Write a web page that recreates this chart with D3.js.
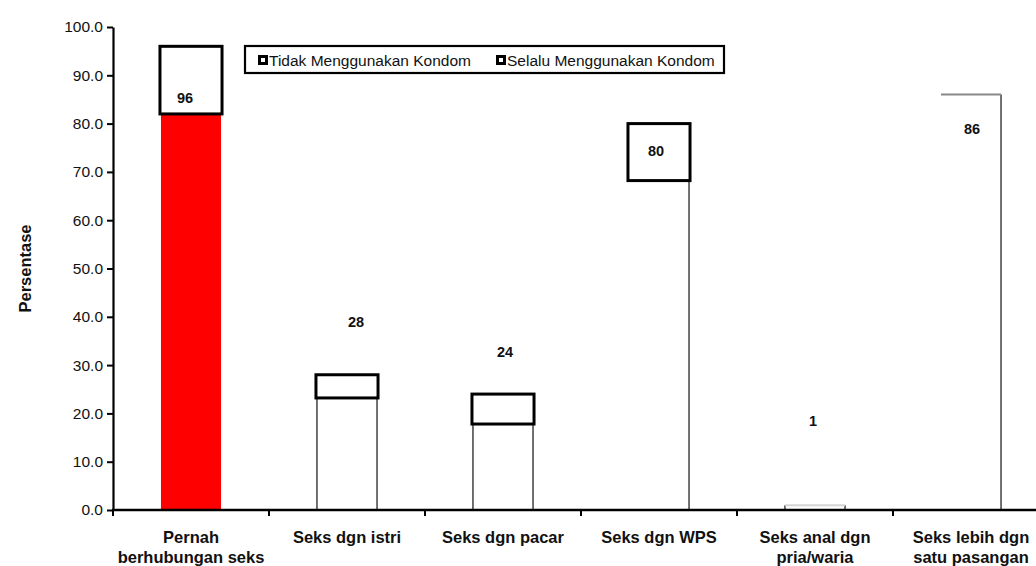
<!DOCTYPE html>
<html>
<head>
<meta charset="utf-8">
<script src="https://cdn.jsdelivr.net/npm/d3@7"></script>
<style>
  html, body { margin: 0; padding: 0; background: #fff; }
  svg { display: block; font-family: "Liberation Sans", Arial, sans-serif; }
</style>
</head>
<body>
<svg id="chart" width="1036" height="566"></svg>
<script>
// Categories (two-line labels split on "|")
const categories = [
  "Pernah|berhubungan seks",
  "Seks dgn istri",
  "Seks dgn pacar",
  "Seks dgn WPS",
  "Seks anal dgn|pria/waria",
  "Seks lebih dgn|satu pasangan"
];
// Series values (percent)
const tidakKondom  = [82.0, 23.2, 17.8, 68.2, 1.0, 86.0];
const selaluKondom = [14.0,  4.8,  6.2, 11.8, 0.0,  0.0];
const seriesNames  = ["Tidak Menggunakan Kondom", "Selalu Menggunakan Kondom"];
const yTicks = [0, 10, 20, 30, 40, 50, 60, 70, 80, 90, 100];

// Presentation settings (not data)
const lowerFill   = ["#ff0000", "#fff", "#fff", "#fff", "#fff", "#fff"];
const lowerSides  = ["", "lr", "lr", "r", "lrt", "tr"];
const labelLevel  = [85.3, 39.0, 32.8, 74.3, 18.5, 79.0];
const labelNudge  = [-6, 9, 2, -3, -2, 1];

const svg = d3.select("#chart");
const y = d3.scaleLinear().domain([0, 100]).range([510, 27]);
const x = d3.scaleBand().domain(categories).range([113, 1049])
  .paddingInner(0.615).paddingOuter(0.3075);
const gap = (x.step() - x.bandwidth()) / 2;

// Y axis
const yAxis = svg.append("g").attr("transform", "translate(113,0)")
  .call(d3.axisLeft(y).tickValues(yTicks).tickFormat(d3.format(".1f"))
    .tickSize(6).tickSizeOuter(0).tickPadding(4));
yAxis.select(".domain").attr("stroke", "#000").attr("stroke-width", 2.2);
yAxis.selectAll(".tick line").attr("stroke", "#000").attr("stroke-width", 2);
yAxis.selectAll(".tick text").attr("font-size", 15.5).attr("fill", "#111")
  .attr("font-family", "Liberation Sans, Arial, sans-serif");

svg.append("text")
  .attr("transform", `translate(31,${(y(0) + y(100)) / 2}) rotate(-90)`)
  .attr("text-anchor", "middle").attr("font-size", 16.5).attr("font-weight", "bold")
  .attr("fill", "#111").text("Persentase");

// Lower segments (Tidak Menggunakan Kondom)
const lower = svg.append("g");
categories.forEach((c, i) => {
  const x0 = x(c), x1 = x(c) + x.bandwidth();
  const yTop = y(tidakKondom[i]), yBase = y(0);
  lower.append("rect").attr("x", x0).attr("y", yTop)
    .attr("width", x.bandwidth()).attr("height", yBase - yTop)
    .attr("fill", lowerFill[i]);
  const sides = lowerSides[i];
  if (sides.includes("l")) lower.append("line").attr("x1", x0).attr("x2", x0)
    .attr("y1", yTop).attr("y2", yBase).attr("stroke", "#111").attr("stroke-width", 1.2);
  if (sides.includes("r")) lower.append("line").attr("x1", x1).attr("x2", x1)
    .attr("y1", yTop).attr("y2", yBase).attr("stroke", "#111").attr("stroke-width", 1.2);
  if (sides.includes("t")) lower.append("line").attr("x1", x0).attr("x2", x1)
    .attr("y1", yTop).attr("y2", yTop)
    .attr("stroke", tidakKondom[i] < 5 ? "#d4d4d4" : "#888").attr("stroke-width", 2);
});

// Upper segments (Selalu Menggunakan Kondom)
svg.append("g").selectAll("rect")
  .data(categories.map((c, i) => ({ c, lo: tidakKondom[i], hi: tidakKondom[i] + selaluKondom[i] }))
    .filter(d => d.hi > d.lo))
  .join("rect")
  .attr("x", d => x(d.c) - 1).attr("width", x.bandwidth() + 2)
  .attr("y", d => y(d.hi)).attr("height", d => y(d.lo) - y(d.hi))
  .attr("fill", "#fff").attr("stroke", "#000").attr("stroke-width", 3);

// X axis line, category boundary ticks and labels
svg.append("line").attr("x1", 112).attr("x2", 1036)
  .attr("y1", y(0)).attr("y2", y(0)).attr("stroke", "#000").attr("stroke-width", 2.4);
svg.append("g").selectAll("line").data(categories).join("line")
  .attr("x1", d => x(d) - gap).attr("x2", d => x(d) - gap)
  .attr("y1", y(0)).attr("y2", y(0) + 6)
  .attr("stroke", "#000").attr("stroke-width", 2);

const catLabels = svg.append("g").attr("font-size", 16.5).attr("font-weight", "bold")
  .attr("fill", "#111").attr("text-anchor", "middle");
categories.forEach(c => {
  const t = catLabels.append("text").attr("x", x(c) + x.bandwidth() / 2).attr("y", 543);
  c.split("|").forEach((line, k) => {
    t.append("tspan").attr("x", x(c) + x.bandwidth() / 2).attr("dy", k === 0 ? 0 : 19.5).text(line);
  });
});

// Value labels (totals)
svg.append("g").selectAll("text").data(categories).join("text")
  .attr("x", (c, i) => x(c) + x.bandwidth() / 2 + labelNudge[i])
  .attr("y", (c, i) => y(labelLevel[i]))
  .attr("dy", "0.36em").attr("text-anchor", "middle")
  .attr("font-size", 14.5).attr("font-weight", "bold").attr("fill", "#111")
  .text((c, i) => d3.format(".0f")(tidakKondom[i] + selaluKondom[i]));

// Legend
const legend = svg.append("g");
legend.append("rect").attr("x", 245).attr("y", 46).attr("width", 479).attr("height", 27)
  .attr("fill", "#fff").attr("stroke", "#000").attr("stroke-width", 2.2);
const legendX = [258, 496];
seriesNames.forEach((name, i) => {
  legend.append("rect").attr("x", legendX[i] + 1.5).attr("y", 56.5).attr("width", 7).attr("height", 7)
    .attr("fill", "#fff").attr("stroke", "#000").attr("stroke-width", 3);
  legend.append("text").attr("x", legendX[i] + 11).attr("y", 66)
    .attr("font-size", 15.5).attr("fill", "#111").text(name);
});
</script>
</body>
</html>
